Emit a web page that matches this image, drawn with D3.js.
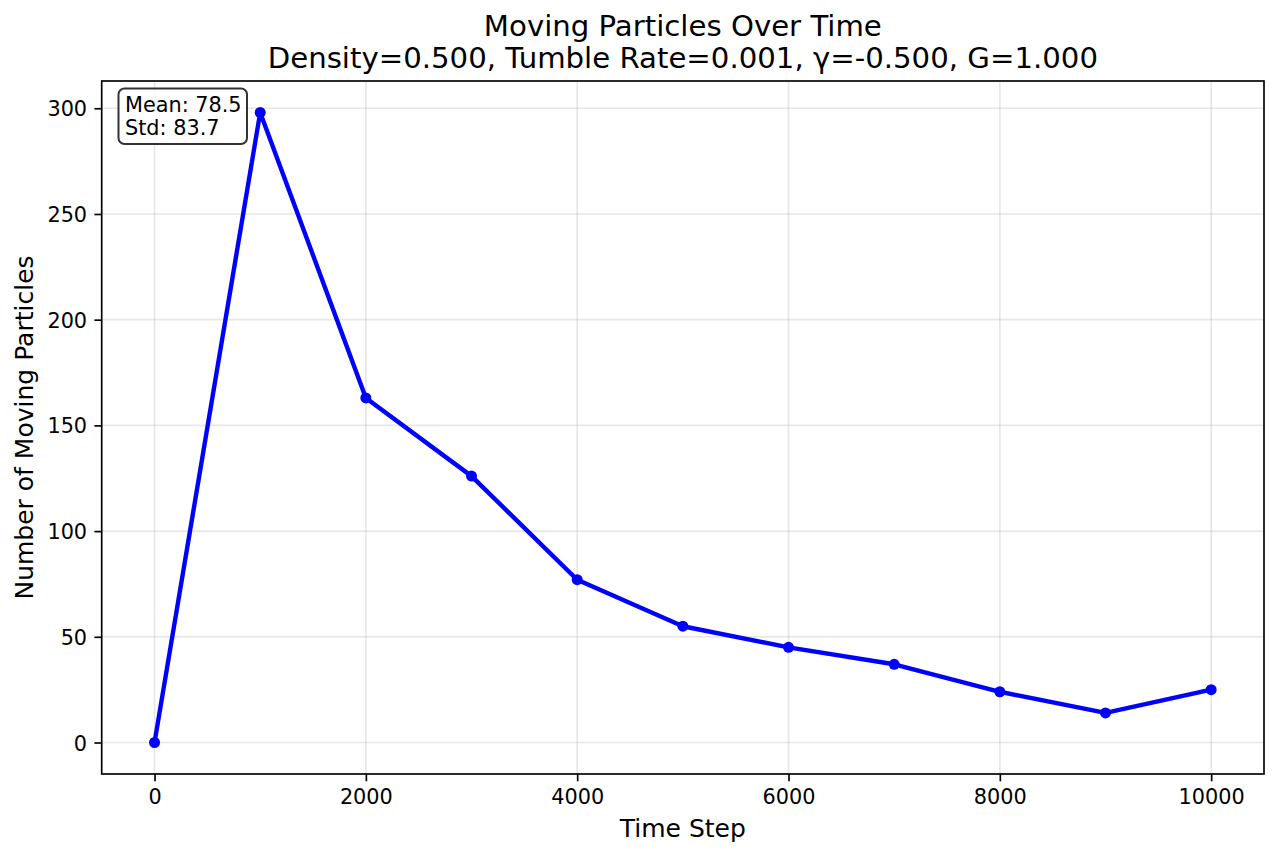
<!DOCTYPE html>
<html>
<head>
<meta charset="utf-8">
<script src="https://cdn.jsdelivr.net/npm/d3@7"></script>
<style>
  body { margin: 0; background: #fff; }
  svg { font-family: "DejaVu Sans", sans-serif; }
</style>
</head>
<body>
<svg id="canvas"></svg>
<script>
"use strict";

const timeSteps = [0, 1000, 2000, 3000, 4000, 5000, 6000, 7000, 8000, 9000, 10000];
const movingCounts = [0, 298, 163, 126, 77, 55, 45, 37, 24, 14, 25];
const xTicks = [0, 2000, 4000, 6000, 8000, 10000];
const yTicks = [0, 50, 100, 150, 200, 250, 300];
const titleLines = [
  "Moving Particles Over Time",
  "Density=0.500, Tumble Rate=0.001, \u03b3=-0.500, G=1.000"
];
const statLines = ["Mean: 78.5", "Std: 83.7"];

const width = 1279;
const height = 856;
const plotLeft = 101.7, plotRight = 1264, plotTop = 81, plotBottom = 774;
const tickFont = 20.8;

const canvas = d3.select("#canvas").attr("width", width).attr("height", height);

const xScale = d3.scaleLinear().domain([-500, 10500]).range([plotLeft, plotRight]);
const yScale = d3.scaleLinear().domain([-14.9, 312.9]).range([plotBottom, plotTop]);

// grid
canvas.append("g")
  .selectAll("line")
  .data(xTicks)
  .enter()
  .append("line")
  .attr("x1", (d) => xScale(d)).attr("x2", (d) => xScale(d))
  .attr("y1", plotTop).attr("y2", plotBottom)
  .attr("stroke", "#b0b0b0").attr("stroke-opacity", 0.3).attr("stroke-width", 1.67);

canvas.append("g")
  .selectAll("line")
  .data(yTicks)
  .enter()
  .append("line")
  .attr("y1", (d) => yScale(d)).attr("y2", (d) => yScale(d))
  .attr("x1", plotLeft).attr("x2", plotRight)
  .attr("stroke", "#b0b0b0").attr("stroke-opacity", 0.3).attr("stroke-width", 1.67);

// axes
const xAxis = d3.axisBottom(xScale).tickValues(xTicks).tickFormat(d3.format("d")).tickSizeOuter(0).tickSize(7.3).tickPadding(7.3);
const yAxis = d3.axisLeft(yScale).tickValues(yTicks).tickFormat(d3.format("d")).tickSizeOuter(0).tickSize(7.3).tickPadding(7.3);

const gx = canvas.append("g").attr("transform", `translate(0,${plotBottom})`).call(xAxis);
const gy = canvas.append("g").attr("transform", `translate(${plotLeft},0)`).call(yAxis);
[gx, gy].forEach((g) => {
  g.attr("font-size", tickFont).attr("font-family", "DejaVu Sans");
  g.select(".domain").remove();
  g.selectAll(".tick line").attr("stroke", "#000").attr("stroke-width", 1.67);
  g.selectAll(".tick text").attr("fill", "#000");
});
gx.selectAll(".tick text").attr("dy", null).attr("y", 30.4);
gy.selectAll(".tick text").attr("dy", null).attr("y", 7.6);

// frame
canvas.append("rect")
  .attr("x", plotLeft).attr("y", plotTop)
  .attr("width", plotRight - plotLeft).attr("height", plotBottom - plotTop)
  .attr("fill", "none").attr("stroke", "#000").attr("stroke-width", 1.67);

// line + markers
const line = d3.line()
  .x((d, i) => xScale(timeSteps[i]))
  .y((d) => yScale(d));

canvas.append("path")
  .datum(movingCounts)
  .attr("d", line)
  .attr("fill", "none")
  .attr("stroke", "#0000ff")
  .attr("stroke-width", 4.4)
  .attr("stroke-linejoin", "round");

canvas.append("g")
  .selectAll("circle")
  .data(movingCounts)
  .enter()
  .append("circle")
  .attr("cx", (d, i) => xScale(timeSteps[i]))
  .attr("cy", (d) => yScale(d))
  .attr("r", 5.5)
  .attr("fill", "#0000ff");

// stats box
canvas.append("rect")
  .attr("x", 118.5).attr("y", 88.5)
  .attr("width", 128.5).attr("height", 55.5)
  .attr("rx", 6).attr("ry", 6)
  .attr("fill", "#fff").attr("fill-opacity", 0.8)
  .attr("stroke", "#000").attr("stroke-opacity", 0.8).attr("stroke-width", 2);

canvas.append("g")
  .selectAll("text")
  .data(statLines)
  .enter()
  .append("text")
  .attr("x", 125)
  .attr("y", (d, i) => 111.7 + i * 23.5)
  .attr("font-size", tickFont)
  .text((d) => d);

// title
canvas.append("g")
  .selectAll("text")
  .data(titleLines)
  .enter()
  .append("text")
  .attr("x", (plotLeft + plotRight) / 2)
  .attr("y", (d, i) => 36 + i * 31.7)
  .attr("text-anchor", "middle")
  .attr("font-size", 29.2)
  .text((d) => d);

// axis labels
canvas.append("text")
  .attr("x", (plotLeft + plotRight) / 2)
  .attr("y", 836.5)
  .attr("text-anchor", "middle")
  .attr("font-size", 25)
  .text("Time Step");

canvas.append("text")
  .attr("transform", `translate(33,${(plotTop + plotBottom) / 2}) rotate(-90)`)
  .attr("text-anchor", "middle")
  .attr("font-size", 25)
  .text("Number of Moving Particles");
</script>
</body>
</html>
